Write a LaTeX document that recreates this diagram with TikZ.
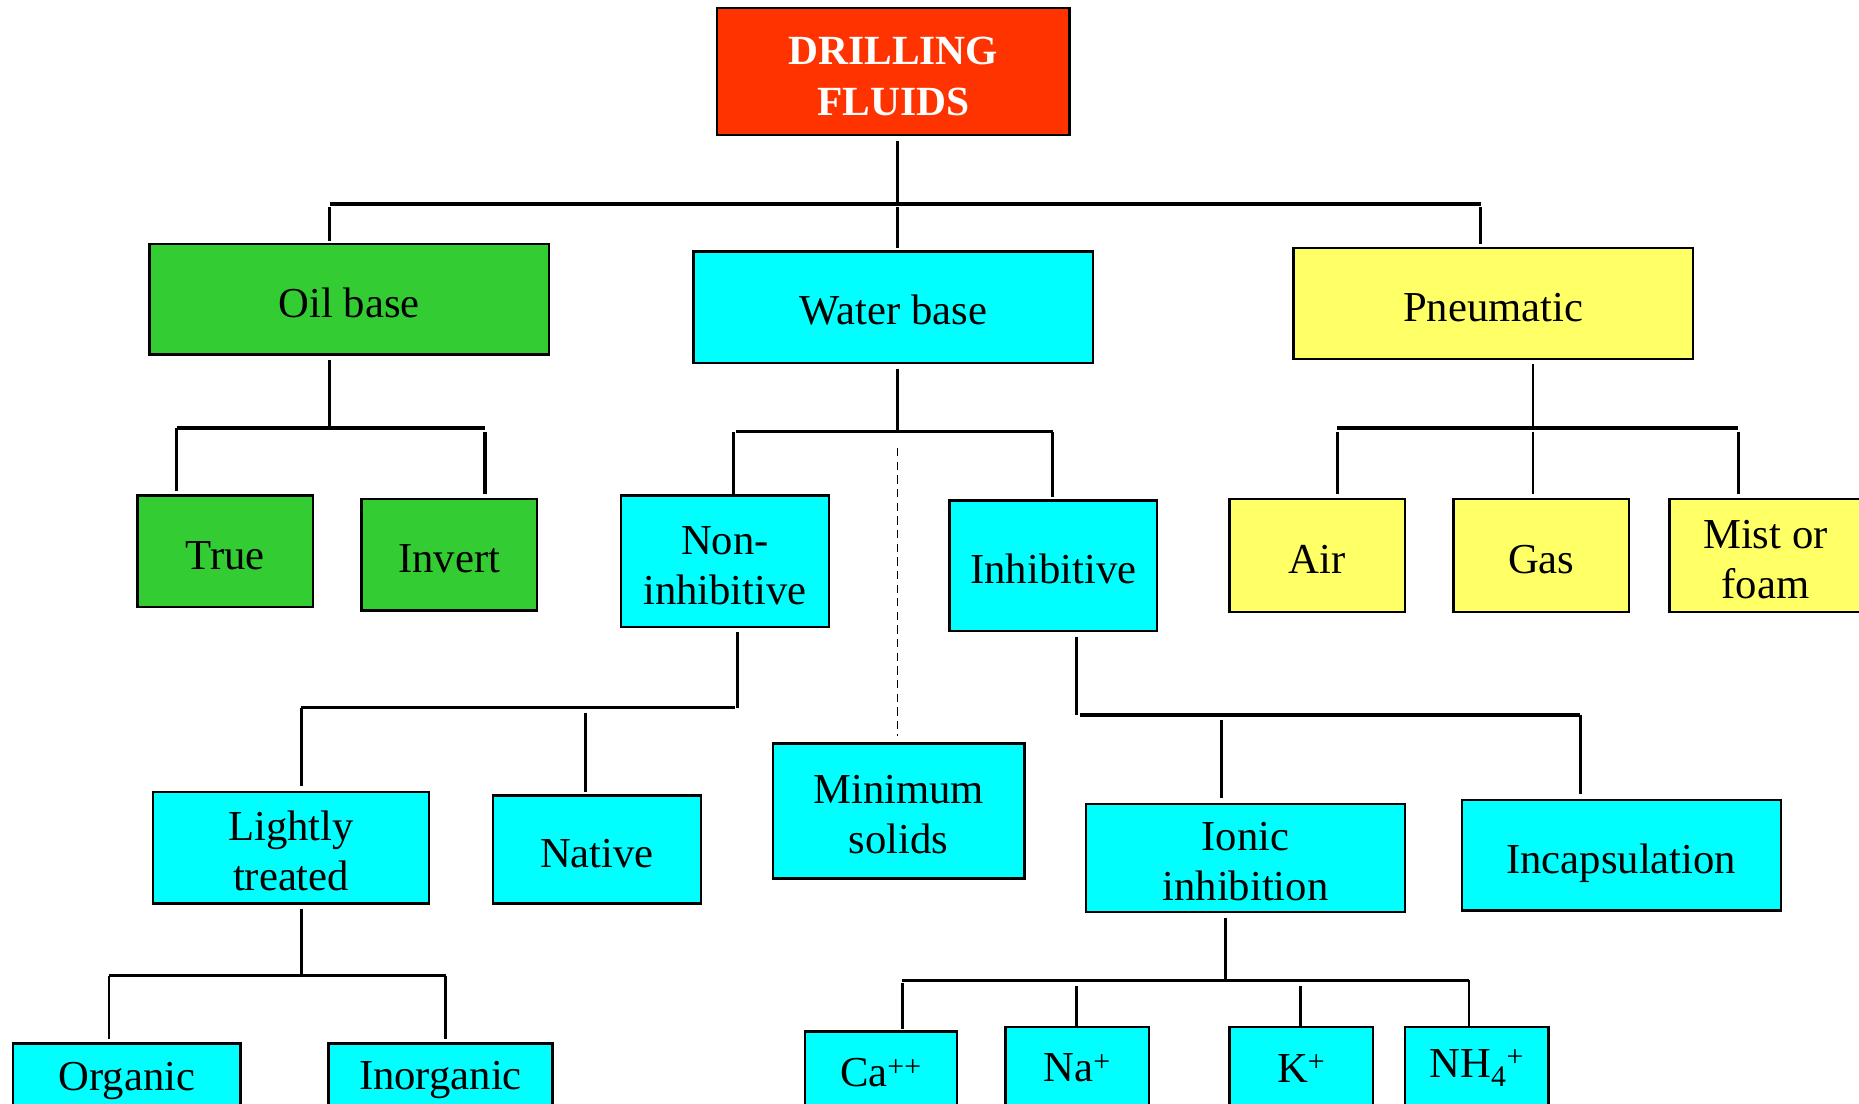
\documentclass[tikz,border=0pt]{standalone}
\usepackage{fontspec}
\setmainfont{Liberation Serif}
\definecolor{cred}{HTML}{FF3300}
\definecolor{cgreen}{HTML}{33CC33}
\definecolor{ccyan}{HTML}{00FFFF}
\definecolor{cyel}{HTML}{FFFF66}
\newcommand\myT{\rule{0pt}{39pt}}
\newcommand\myB{\rule[-9pt]{0pt}{9pt}}
\newcommand\mybox[8][]{\node[box,fill=#7,minimum width={#4-#2},minimum height={#5-#3},#1] (#6) at ({(#2+#4)/2},{(#3+#5)/2}) {#8};}
\begin{document}
\begin{tikzpicture}[x=1pt,y=-1pt,
  box/.style={draw=black,line width=2pt,inner sep=0pt,align=center,font=\fontsize{36}{42}\selectfont},
  conn/.style={draw=black,line width=2.4pt},
  bar/.style={draw=black,line width=2.8pt},
  dashconn/.style={draw=black,line width=1.5pt,dash pattern=on 7pt off 4.5pt},
]
\clip (0,0) rectangle (1568,931);
\fill[white] (0,0) rectangle (1568,931);
% boxes
\mybox[text=white,font=\fontsize{35}{43}\selectfont\bfseries]{605}{7}{902}{114}{drill}{cred}{\myT DRILLING\\FLUIDS\myB}
\mybox{126}{206}{463}{299}{oil}{cgreen}{\myT Oil base\myB}
\mybox{585}{212}{922}{306}{water}{ccyan}{\myT Water base\myB}
\mybox{1091}{209}{1428}{303}{pneu}{cyel}{\myT Pneumatic\myB}
\mybox{116}{418}{264}{512}{true}{cgreen}{\myT True\myB}
\mybox{305}{421}{453}{515}{invert}{cgreen}{\myT Invert\myB}
\mybox{524}{418}{699}{529}{noninh}{ccyan}{\myT Non-\\inhibitive\myB}
\mybox{801}{422}{976}{532}{inh}{ccyan}{\myT Inhibitive\myB}
\mybox{1037}{421}{1185}{516}{air}{cyel}{\myT Air\myB}
\mybox{1226}{421}{1374}{516}{gas}{cyel}{\myT Gas\myB}
\mybox{1408}{421}{1570}{516}{mist}{cyel}{\myT Mist or\\foam\myB}
\mybox{129}{668}{362}{762}{light}{ccyan}{\myT Lightly\\treated\myB}
\mybox{416}{671}{591}{762}{native}{ccyan}{\myT Native\myB}
\mybox{652}{627}{864}{741}{minsol}{ccyan}{\myT Minimum\\solids\myB}
\mybox{916}{678}{1185}{769}{ionic}{ccyan}{\myT Ionic\\inhibition\myB}
\mybox{1233}{675}{1502}{768}{incap}{ccyan}{\myT Incapsulation\myB}
\mybox{11}{880}{203}{944}{organic}{ccyan}{Organic}
\mybox{277}{880}{466}{942}{inorg}{ccyan}{Inorganic}
\mybox{679}{870}{807}{940}{ca}{ccyan}{Ca\textsuperscript{++}}
\mybox{848}{866}{969}{936}{na}{ccyan}{Na\textsuperscript{+}}
\mybox{1037}{866}{1158}{936}{k}{ccyan}{K\textsuperscript{+}}
\mybox{1185}{866}{1306}{936}{nh}{ccyan}{NH\textsubscript{4}\textsuperscript{+}}
% junction coordinates
\coordinate (j0) at (757,172);
\coordinate (j1) at (278,361);
\coordinate (j2) at (757,364);
\coordinate (j3) at (1293,361);
\coordinate (j4) at (622,597);
\coordinate (j5) at (908,603);
\coordinate (j6) at (254,823);
\coordinate (j7) at (1034,827);
% level 1
\draw[conn] ([yshift=-4pt]j0 |- drill.south) -- (j0);
\draw[bar] (278,172) -- (1249,172);
\draw[conn] (278,175) -- ([yshift=2pt]278,0 |- oil.north);
\draw[conn] (757,175) -- ([yshift=2pt]757,0 |- water.north);
\draw[conn] (1249,175) -- ([yshift=2pt]1249,0 |- pneu.north);
% oil base
\draw[conn] ([yshift=-4pt]j1 |- oil.south) -- (j1);
\draw[bar] (149,361) -- (409,361);
\draw[conn] (149,361) -- ([yshift=3pt]149,0 |- true.north);
\draw[bar] (409,364) -- ([yshift=3pt]409,0 |- invert.north);
% water base
\draw[conn] ([yshift=-4pt]j2 |- water.south) -- (j2);
\draw[conn] (621,364) -- (888,364);
\draw[conn] (619,364) -- (619,0 |- noninh.north);
\draw[conn] (888,364) -- ([yshift=2pt]888,0 |- inh.north);
\draw[dashconn] (757,378) -- ([yshift=5pt]757,0 |- minsol.north);
% pneumatic
\draw[conn] ([yshift=-3pt]j3 |- pneu.south) -- (j3);
\draw[bar] (1128,361) -- (1466,361);
\draw[conn] (1128,364) -- ([yshift=3pt]1128,0 |- air.north);
\draw[conn] (1293,364) -- ([yshift=3pt]1293,0 |- gas.north);
\draw[conn] (1466,364) -- ([yshift=3pt]1466,0 |- mist.north);
% non-inhibitive
\draw[conn] ([yshift=-3pt]j4 |- noninh.south) -- (j4);
\draw[bar] (254,597) -- (620,597);
\draw[conn] (254,597) -- ([yshift=4pt]254,0 |- light.north);
\draw[conn] (494,601) -- ([yshift=2pt]494,0 |- native.north);
% inhibitive
\draw[conn] ([yshift=-4pt]j5 |- inh.south) -- (j5);
\draw[bar] (911,603) -- (1333,603);
\draw[conn] (1030,607) -- ([yshift=4pt]1030,0 |- ionic.north);
\draw[conn] (1333,603) -- ([yshift=4pt]1333,0 |- incap.north);
% lightly treated
\draw[conn] ([yshift=-4pt]j6 |- light.south) -- (j6);
\draw[conn] (92,823) -- (376,823);
\draw[conn] (92,823) -- ([yshift=3pt]92,0 |- organic.north);
\draw[conn] (376,823) -- ([yshift=3pt]376,0 |- inorg.north);
% ionic inhibition
\draw[conn] ([yshift=-4pt]j7 |- ionic.south) -- (j7);
\draw[bar,line width=3.2pt] (761,827) -- (1239,827);
\draw[conn] (761,829) -- ([yshift=1pt]761,0 |- ca.north);
\draw[conn] (908,832) -- (908,0 |- na.north);
\draw[conn] (1097,832) -- (1097,0 |- k.north);
\draw[conn] (1239,827) -- (1239,0 |- nh.north);
\end{tikzpicture}
\end{document}
